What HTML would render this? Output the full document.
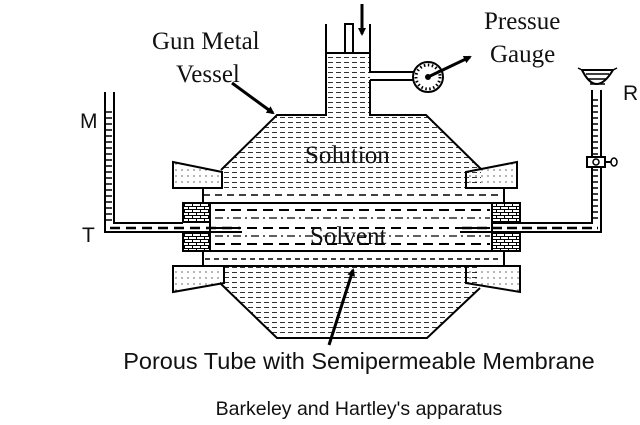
<!DOCTYPE html>
<html><head><style>
html,body{margin:0;padding:0;background:#fff;width:640px;height:425px;overflow:hidden}
svg{display:block}
.t{font-family:"Liberation Serif",serif;font-size:25px;fill:#111}
.s{font-family:"Liberation Sans",sans-serif;fill:#111}
</style></head><body>
<svg width="640" height="425" viewBox="0 0 640 425" xmlns="http://www.w3.org/2000/svg">
<defs>
<pattern id="h" width="8" height="5" patternUnits="userSpaceOnUse"><line x1="0" y1="2.5" x2="5" y2="2.5" stroke="#000" stroke-width="0.8"/></pattern>
<pattern id="d" width="6" height="6" patternUnits="userSpaceOnUse"><circle cx="2" cy="2" r="0.6" fill="#000"/></pattern>
<pattern id="b" width="8" height="6" patternUnits="userSpaceOnUse"><rect width="8" height="6" fill="#fff"/><line x1="0" y1="5.5" x2="8" y2="5.5" stroke="#000"/><line x1="0.5" y1="0" x2="0.5" y2="3" stroke="#000"/><line x1="0" y1="2.5" x2="8" y2="2.5" stroke="#000"/><line x1="4.5" y1="3" x2="4.5" y2="6" stroke="#000"/></pattern>
<marker id="a" markerWidth="8" markerHeight="8" refX="6" refY="4" orient="auto" markerUnits="userSpaceOnUse"><path d="M0,0 L8,4 L0,8 z" fill="#000"/></marker>
</defs>
<g stroke="#000" stroke-width="2" fill="none">
<path d="M326,53 L370,53 L370,115 L426,115 L481,169 L481,188 L221,188 L221,170 L277,115 L326,115 Z" fill="url(#h)" stroke="none"/>
<path d="M326,24 L326,115 L277,115 L221,170 M370,24 L370,72 L415,72 M370,80 L415,80 M370,80 L370,115 L426,115 L481,169"/>
<line x1="326" y1="53" x2="370" y2="53"/>
<rect x="345" y="24" width="8" height="29" fill="#fff"/>
<path d="M173,162 L222,172 L222,188 L173,188 Z" fill="url(#d)"/>
<path d="M517,162 L466,172 L466,188 L517,188 Z" fill="url(#d)"/>
<path d="M203,188 L203,203 M504,188 L504,203"/>
<line x1="203" y1="195" x2="504" y2="195" stroke-dasharray="7,5" stroke-width="1.5"/>
<rect x="210" y="203" width="282" height="48"/>
<g stroke-width="2" stroke-dasharray="10,6"><line x1="215" y1="210" x2="490" y2="210"/><line x1="215" y1="228" x2="490" y2="228"/><line x1="215" y1="244" x2="490" y2="244"/></g>
<g stroke-width="1.3" stroke-dasharray="8,4,2,4"><line x1="215" y1="218" x2="490" y2="218"/><line x1="215" y1="236" x2="490" y2="236"/></g>
<rect x="183" y="203" width="27" height="19" fill="url(#b)"/>
<rect x="183" y="232" width="27" height="19" fill="url(#b)"/>
<rect x="492" y="203" width="28" height="19" fill="url(#b)"/>
<rect x="492" y="232" width="28" height="19" fill="url(#b)"/>
<path d="M203,251 L203,266 M504,251 L504,266 M173,266 L520,266"/>
<line x1="205" y1="259" x2="502" y2="259" stroke-dasharray="5,4" stroke-width="1.5"/>
<path d="M224,266 L480,266 L480,288 L427,338 L277,338 L220,283 Z" fill="url(#h)" stroke="none"/>
<path d="M220,283 L277,338 L427,338 L480,288"/>
<path d="M173,266 L224,266 L224,283 L173,292 Z" fill="url(#d)"/>
<path d="M520,266 L466,266 L466,283 L520,292 Z" fill="url(#d)"/>
<path d="M105,92 L105,232 L242,232 M114,92 L114,223 L183,223"/>
<g stroke-width="1.5"><path d="M106,112h6M106,118h6M106,124h6M106,130h6M106,136h6M106,142h6M106,148h6M106,154h6M106,160h6M106,166h6M106,172h6M106,178h6M106,184h6M106,190h6M106,196h6M106,202h6M106,208h6M106,214h6M106,220h6"/></g>
<line x1="110" y1="228" x2="240" y2="228" stroke-dasharray="10,6" stroke-width="2.5"/>
<path d="M460,232 L601,232 L601,90 M492,223 L592,223 L592,90"/>
<line x1="462" y1="228" x2="598" y2="228" stroke-dasharray="10,5" stroke-width="2.5"/>
<g stroke-width="1.5"><path d="M593,100h5M593,106h5M593,112h5M593,118h5M593,124h5M593,130h5M593,136h5M593,142h5M593,148h5M593,154h5M593,170h5M593,176h5M593,182h5M593,188h5M593,194h5M593,200h5M593,206h5M593,212h5M593,218h5"/></g>
<path d="M582,70 Q596,98 613,70 Z" fill="#fff"/>
<g stroke-width="1.5"><path d="M586,74h23M588,79h19M590,84h15"/></g>
<path d="M578,68 l4,2 M617,68 l-4,2" stroke-width="1.5"/>
<rect x="587" y="157" width="18" height="10" fill="#fff"/>
<path d="M605,162 h6" /><ellipse cx="614" cy="162" rx="3" ry="4" fill="#fff" stroke-width="1.5"/>
<circle cx="596" cy="162" r="3" stroke-width="1.5"/>
<circle cx="428" cy="77" r="15" fill="#fff"/>
<circle cx="428" cy="77" r="12" stroke-width="3" stroke-dasharray="1.5,2.5"/>
<circle cx="428" cy="77" r="2" fill="#000"/>
<line x1="428" y1="77" x2="470" y2="57" stroke-width="3" marker-end="url(#a)"/>
<line x1="362" y1="4" x2="362" y2="34" stroke-width="3" marker-end="url(#a)"/>
<line x1="232" y1="83" x2="273" y2="113" stroke-width="3" marker-end="url(#a)"/>
<line x1="329" y1="345" x2="353" y2="270" stroke-width="3" marker-end="url(#a)"/>
</g>
<text class="t" x="305" y="163">Solution</text>
<text class="t" x="310" y="244">Solvent</text>
<text class="t" x="152" y="49">Gun Metal</text>
<text class="t" x="176" y="82">Vessel</text>
<text class="t" x="484" y="29">Pressue</text>
<text class="t" x="490" y="62">Gauge</text>
<text class="s" x="80" y="128" font-size="21">M</text>
<text class="s" x="82" y="242" font-size="21">T</text>
<text class="s" x="623" y="100" font-size="21">R</text>
<text class="s" x="359" y="369" font-size="23.5" text-anchor="middle">Porous Tube with Semipermeable Membrane</text>
<text class="s" x="359" y="415" font-size="19.5" text-anchor="middle">Barkeley and Hartley's apparatus</text>
</svg>
</body></html>
